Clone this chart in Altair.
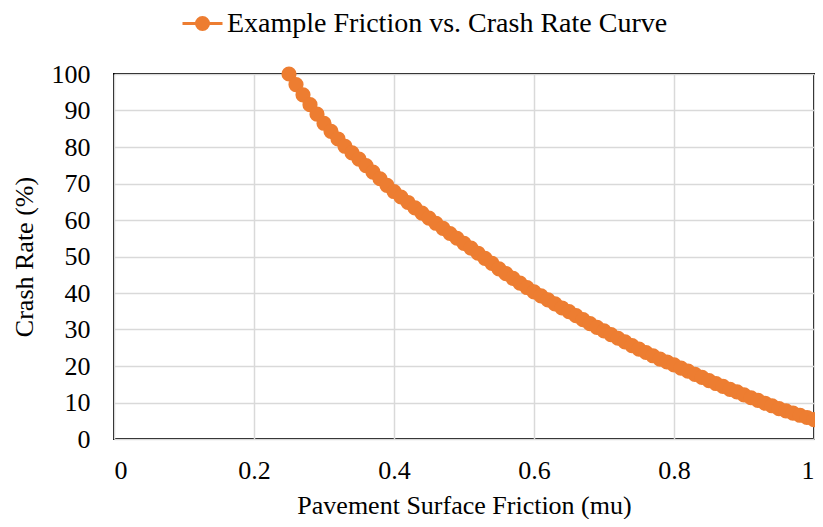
import altair as alt
import pandas as pd

friction = [0.25, 0.26, 0.27, 0.28, 0.29, 0.30, 0.31, 0.32, 0.33, 0.34,
            0.35, 0.36, 0.37, 0.38, 0.39, 0.40, 0.41, 0.42, 0.43, 0.44,
            0.45, 0.46, 0.47, 0.48, 0.49, 0.50, 0.51, 0.52, 0.53, 0.54,
            0.55, 0.56, 0.57, 0.58, 0.59, 0.60, 0.61, 0.62, 0.63, 0.64,
            0.65, 0.66, 0.67, 0.68, 0.69, 0.70, 0.71, 0.72, 0.73, 0.74,
            0.75, 0.76, 0.77, 0.78, 0.79, 0.80, 0.81, 0.82, 0.83, 0.84,
            0.85, 0.86, 0.87, 0.88, 0.89, 0.90, 0.91, 0.92, 0.93, 0.94,
            0.95, 0.96, 0.97, 0.98, 0.99, 1.00]
crash_rate = [100.0, 97.1, 94.3, 91.6, 89.0, 86.5, 84.3, 82.2, 80.2, 78.4,
              76.7, 74.9, 73.1, 71.3, 69.5, 67.8, 66.3, 64.8, 63.3, 61.9,
              60.5, 59.1, 57.7, 56.3, 55.0, 53.6, 52.3, 50.9, 49.5, 48.1,
              46.6, 45.3, 44.0, 42.7, 41.5, 40.3, 39.2, 38.1, 37.0, 35.9,
              34.9, 33.8, 32.7, 31.6, 30.6, 29.6, 28.6, 27.6, 26.6, 25.6,
              24.6, 23.7, 22.8, 21.9, 21.1, 20.3, 19.4, 18.6, 17.7, 16.9,
              16.0, 15.2, 14.4, 13.6, 12.9, 12.1, 11.3, 10.6, 9.8, 9.1,
              8.3, 7.7, 7.1, 6.5, 5.9, 5.3]
series_name = "Example Friction vs. Crash Rate Curve"
x_ticks = [0, 0.2, 0.4, 0.6, 0.8, 1]
y_ticks = [0, 10, 20, 30, 40, 50, 60, 70, 80, 90, 100]

df = pd.DataFrame({"friction": friction, "crash": crash_rate, "series": series_name})

ORANGE = "#ED7D31"
FONT = "Liberation Serif"

chart = alt.Chart(df).mark_line(
    color=ORANGE, strokeWidth=4,
    point=alt.OverlayMarkDef(filled=True, size=230, color=ORANGE, opacity=1),
).encode(
    x=alt.X("friction:Q", title="Pavement  Surface Friction (mu)",
            scale=alt.Scale(domain=[0, 1], nice=False),
            axis=alt.Axis(values=x_ticks, format="~g", labelPadding=18, titlePadding=9)),
    y=alt.Y("crash:Q", title="Crash Rate (%)",
            scale=alt.Scale(domain=[0, 100], nice=False),
            axis=alt.Axis(values=y_ticks, labelPadding=24, titlePadding=14)),
    color=alt.Color("series:N", scale=alt.Scale(range=[ORANGE]),
                    legend=alt.Legend(
                        title=None, orient="none", legendX=67, legendY=-72,
                        symbolType="M-1,0H1M-0.3,0A0.3,0.3,0,1,0,0.3,0A0.3,0.3,0,1,0,-0.3,0Z",
                        symbolSize=1600, symbolStrokeWidth=3,
                        symbolFillColor=ORANGE, symbolStrokeColor=ORANGE,
                        symbolOpacity=1,
                        labelFont=FONT, labelFontSize=28, labelColor="black",
                        labelOffset=3, padding=0, labelLimit=800,
                    )),
).properties(
    width=700, height=365,
    autosize=alt.AutoSizeParams(type="none"),
    padding={"left": 106, "top": 66, "right": 1, "bottom": 80},
    background="white",
).configure_view(
    stroke="black", strokeWidth=2,
).configure_axis(
    labelFont=FONT, labelFontSize=26, labelColor="black",
    titleFont=FONT, titleFontSize=26, titleFontWeight="normal", titleColor="black",
    gridColor="#d9d9d9", gridWidth=1.5, domain=False, ticks=False, tickSize=0,
)

chart.save("out.html", embed_options={"renderer": "svg", "actions": False})
